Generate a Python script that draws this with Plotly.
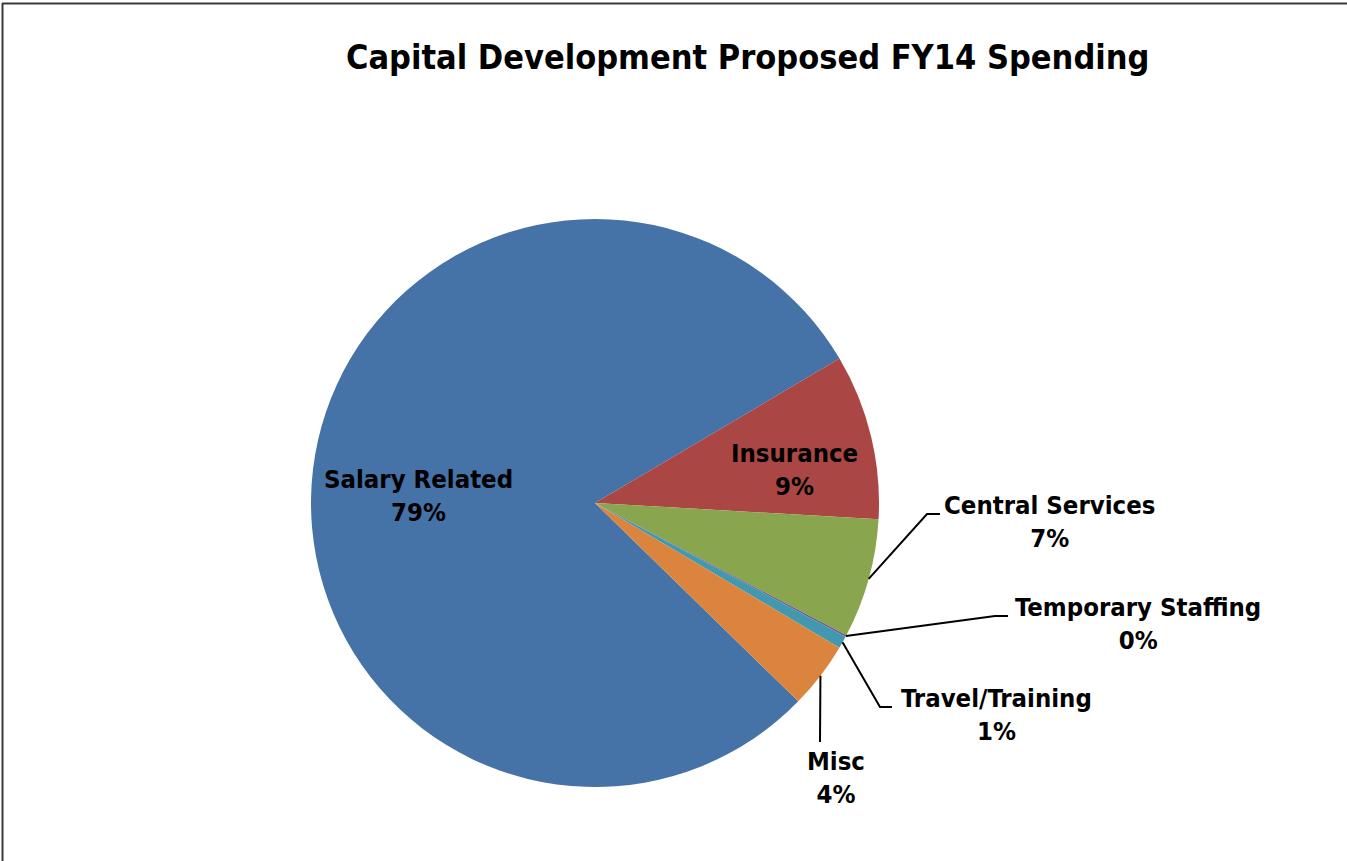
import math
import plotly.graph_objects as go

# Spending categories and their shares (percent)
categories = ["Salary Related", "Insurance", "Central Services",
              "Temporary Staffing", "Travel/Training", "Misc"]
shares = [79.2, 9.4, 6.8, 0.1, 0.7, 3.8]
colors = ["#4572A7", "#AA4643", "#89A54E", "#71588F", "#4198AF", "#DB843D"]

title_text = "Capital Development Proposed FY14 Spending"

W, H = 1347, 861
CX, CY, R = 595, 503, 284          # pie centre and radius in pixels
ROTATION = 134.3                    # start angle, degrees clockwise from 12 o'clock
FONT = "DejaVu Sans Condensed, DejaVu Sans, sans-serif"


def px(x):
    return x / W


def py(y):
    return 1 - y / H


fig = go.Figure(go.Pie(
    labels=categories,
    values=shares,
    sort=False,
    direction="clockwise",
    rotation=ROTATION,
    marker=dict(colors=colors, line=dict(width=0)),
    textinfo="none",
    hoverinfo="label+percent",
    showlegend=False,
    domain=dict(x=[px(CX - R), px(CX + R)], y=[py(CY + R), py(CY - R)]),
))

# mid-angle of each slice on the rim, used as the leader line start
total = sum(shares)
mids = []
acc = 0.0
for v in shares:
    a = ROTATION + (acc + v / 2) / total * 360
    rad = math.radians(a)
    mids.append((CX + R * math.sin(rad), CY - R * math.cos(rad)))
    acc += v

# label placement: (centre x, centre y, leader elbow points or None)
label_layout = {
    "Salary Related": (418, 495, None),
    "Insurance": (795, 470, None),
    "Central Services": (1049, 521, [(927, 514), (940, 514)]),
    "Temporary Staffing": (1138, 623, [(995, 616), (1008, 616)]),
    "Travel/Training": (996, 714, [(880, 707), (892, 707)]),
    "Misc": (836, 777, [(820, 742)]),
}

annotations = []
shapes = []
for i, name in enumerate(categories):
    pct = round(shares[i] / total * 100)
    lx, ly, elbow = label_layout[name]
    annotations.append(dict(
        x=px(lx), y=py(ly), xref="paper", yref="paper",
        text=f"{name}<br>{pct}%", showarrow=False,
        xanchor="center", yanchor="middle", align="center",
        font=dict(family=FONT, size=25.5, color="#000000", weight="bold"),
    ))
    if elbow:
        pts = [mids[i]] + elbow
        path = "M " + " L ".join(f"{px(x):.5f},{py(y):.5f}" for x, y in pts)
        shapes.append(dict(type="path", xref="paper", yref="paper", path=path,
                           line=dict(color="#000000", width=2)))

annotations.append(dict(
    x=px(747.5), y=py(57), xref="paper", yref="paper",
    text=title_text, showarrow=False, xanchor="center", yanchor="middle",
    font=dict(family=FONT, size=34, color="#000000", weight="bold"),
))

# chart frame edges
shapes.append(dict(type="line", xref="paper", yref="paper",
                   x0=px(2.5), x1=px(2.5), y0=py(3), y1=py(H + 5),
                   line=dict(color="#3a3a3a", width=2)))
shapes.append(dict(type="line", xref="paper", yref="paper",
                   x0=px(2), x1=px(W + 5), y0=py(3.5), y1=py(3.5),
                   line=dict(color="#3a3a3a", width=2)))

fig.update_layout(
    width=W, height=H,
    margin=dict(l=0, r=0, t=0, b=0),
    paper_bgcolor="#ffffff",
    plot_bgcolor="#ffffff",
    annotations=annotations,
    shapes=shapes,
)

fig.write_html("out.html")
